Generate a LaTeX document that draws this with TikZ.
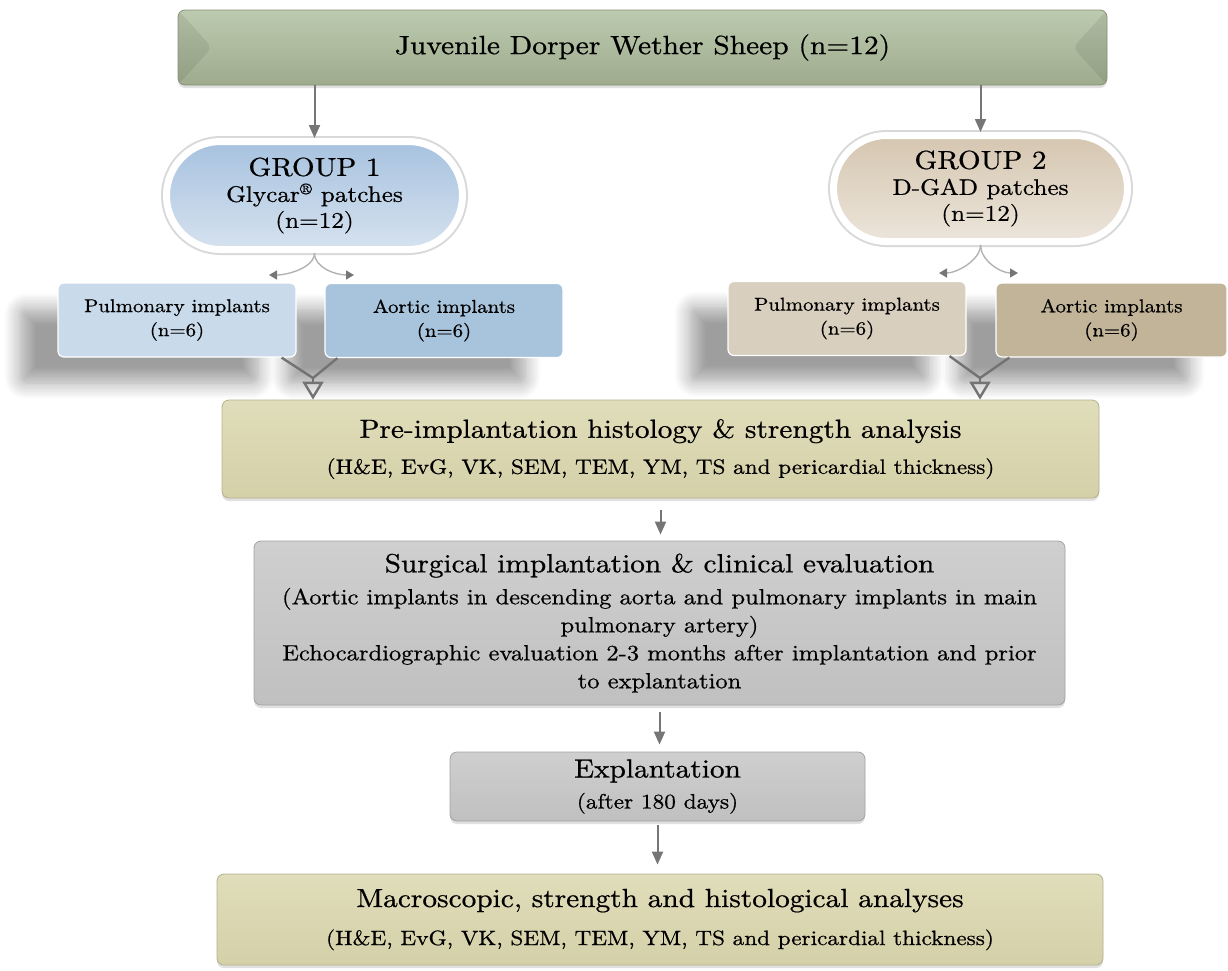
\documentclass[tikz,border=0pt]{standalone}
\usepackage{fontspec}
\setmainfont{lmroman10-regular.otf}[FakeStretch=1.12, FakeBold=0.7]
\usepackage{tikz}
\usetikzlibrary{arrows.meta,calc,shapes.misc,shadows,shadows.blur}
\definecolor{sage}{RGB}{158,171,141}
\definecolor{sagelight}{RGB}{188,202,175}
\definecolor{khaki}{RGB}{212,208,168}
\definecolor{khakilight}{RGB}{224,221,186}
\definecolor{stone}{RGB}{192,192,192}
\definecolor{stonelight}{RGB}{207,207,207}
\definecolor{skytop}{RGB}{167,194,223}
\definecolor{skybottom}{RGB}{214,226,239}
\definecolor{skypale}{RGB}{201,218,234}
\definecolor{skymid}{RGB}{168,195,220}
\definecolor{sandtop}{RGB}{213,198,176}
\definecolor{sandbottom}{RGB}{236,229,219}
\definecolor{sandpale}{RGB}{216,207,190}
\definecolor{sanddark}{RGB}{194,180,152}
\definecolor{arrowgrey}{RGB}{118,118,118}
\newcommand{\headline}[1]{{\fontsize{26.2}{31}\selectfont #1}}
\tikzstyle{stage}=[line width=.8pt, rounded corners=7pt, align=center, inner sep=0pt, drop shadow={shadow xshift=0pt, shadow yshift=-3pt, opacity=.3, fill=black!40}]
\tikzstyle{sagebox}=[stage, top color=sagelight, bottom color=sage, draw=sage!85!black,
  path picture={\fill[black, opacity=.07] (path picture bounding box.north west) -- ($(path picture bounding box.west)+(34,0)$) -- (path picture bounding box.south west) -- cycle;
    \fill[black, opacity=.07] (path picture bounding box.north east) -- ($(path picture bounding box.east)+(-34,0)$) -- (path picture bounding box.south east) -- cycle;}]
\tikzstyle{khakibox}=[stage, top color=khakilight, bottom color=khaki, draw=khaki!85!black]
\tikzstyle{stonebox}=[stage, top color=stonelight, bottom color=stone, draw=stone!85!black]
\tikzstyle{group}=[rounded rectangle, draw=white, line width=7pt, preaction={draw=black!15, line width=11pt}, align=center, inner sep=0pt, font=\fontsize{22.5}{26}\selectfont]
\tikzstyle{implant}=[rounded corners=6pt, draw=white, line width=1.2pt, align=center, inner sep=0pt, minimum width=238pt, minimum height=74pt, font=\fontsize{18.6}{24}\selectfont,
  blur shadow={shadow xshift=-38pt, shadow yshift=-26pt, shadow blur radius=16pt, shadow blur steps=12, shadow opacity=38}]
\tikzstyle{flow}=[draw=arrowgrey, line width=2pt, -{Triangle[length=13pt,width=11pt]}]
\tikzstyle{split}=[draw=black!30, line width=1.4pt, -{Triangle[length=8pt,width=9pt,color=arrowgrey]}]
\tikzstyle{merge}=[draw=black!55, line width=2.4pt]
\tikzstyle{mergetip}=[merge, -{Triangle[open,length=18pt,width=21pt]}]

\begin{document}
\begin{tikzpicture}[x=1pt,y=-1pt]
\useasboundingbox (0,0) rectangle (1228,970);
% animals
\node [sagebox, minimum width=929pt, minimum height=75pt, font=\fontsize{26.3}{31}\selectfont] (sheep) at (642.5,47.5) {Juvenile Dorper Wether Sheep (n=12)};
% groups
\node [group, minimum width=296pt, minimum height=108pt, top color=skytop, bottom color=skybottom] (g1) at (314.5,195.5)
  {{\fontsize{26}{30}\selectfont GROUP 1}\\Glycar\textsuperscript{®} patches\\(n=12)};
\node [group, minimum width=294pt, minimum height=106pt, top color=sandtop, bottom color=sandbottom] (g2) at (980.5,188.5)
  {{\fontsize{26}{30}\selectfont GROUP 2}\\D-GAD patches\\(n=12)};
% implants
\node [implant, fill=skymid] (aor1) at (444,320.5) {Aortic implants\\(n=6)};
\node [implant, fill=skypale] (pul1) at (177,320) {Pulmonary implants\\(n=6)};
\node [implant, fill=sanddark, minimum width=231pt] (aor2) at (1111.5,320) {Aortic implants\\(n=6)};
\node [implant, fill=sandpale] (pul2) at (847,318.5) {Pulmonary implants\\(n=6)};
% analyses
\node [khakibox, minimum width=877pt, minimum height=98pt, font=\fontsize{20.7}{24}\selectfont] (pre) at (660.5,449)
  {\headline{Pre-implantation histology \& strength analysis}\\[12pt](H\&E, EvG, VK, SEM, TEM, YM, TS and pericardial thickness)};
\node [stonebox, minimum width=811pt, minimum height=164pt, font=\fontsize{21.9}{28}\selectfont] (surg) at (659.5,623)
  {\headline{Surgical implantation \& clinical evaluation}\\[4pt](Aortic implants in descending aorta and pulmonary implants in main\\pulmonary artery)\\Echocardiographic evaluation 2-3 months after implantation and prior\\to explantation};
\node [stonebox, minimum width=415pt, minimum height=69pt, font=\fontsize{20.8}{24}\selectfont] (expl) at (657.5,786.5)
  {\headline{Explantation}\\[7pt](after 180 days)};
\node [khakibox, minimum width=886pt, minimum height=91pt, font=\fontsize{20.7}{24}\selectfont] (macro) at (660,919.5)
  {\headline{Macroscopic, strength and histological analyses}\\[14pt](H\&E, EvG, VK, SEM, TEM, YM, TS and pericardial thickness)};

\coordinate (g1l) at (269,275);
\coordinate (g1r) at (354,275);
\coordinate (g2l) at (939,273);
\coordinate (g2r) at (1018,273);
\coordinate (j1) at (313,378);
\coordinate (j2) at (980,378);

\draw [flow] (sheep.south -| g1.north) -- (g1.north);
\draw [flow] (sheep.south -| g2.north) -- (g2.north);
\draw [split] (g1.south) .. controls +(0,15) and +(18,0) .. (g1l);
\draw [split] (g1.south) .. controls +(0,15) and +(-18,0) .. (g1r);
\draw [split] (g2.south) .. controls +(0,15) and +(18,0) .. (g2l);
\draw [split] (g2.south) .. controls +(0,15) and +(-18,0) .. (g2r);
\draw [merge] ($(pul1.south east)+(-15,0)$) -- (j1) -- ($(aor1.south west)+(13,0)$);
\draw [merge] ($(pul2.south east)+(-17,0)$) -- (j2) -- ($(aor2.south west)+(14,0)$);
\draw [mergetip] (j1) -- (j1 |- pre.north);
\draw [mergetip] (j2) -- (j2 |- pre.north);
\draw [flow, shorten <=12pt, shorten >=6pt] (pre.south) -- (pre.south |- surg.north);
\draw [flow, shorten <=7pt, shorten >=7pt] (surg.south) -- (surg.south |- expl.north);
\draw [flow, shorten <=4pt, shorten >=9pt] (expl.south) -- (expl.south |- macro.north);
\end{tikzpicture}
\end{document}
